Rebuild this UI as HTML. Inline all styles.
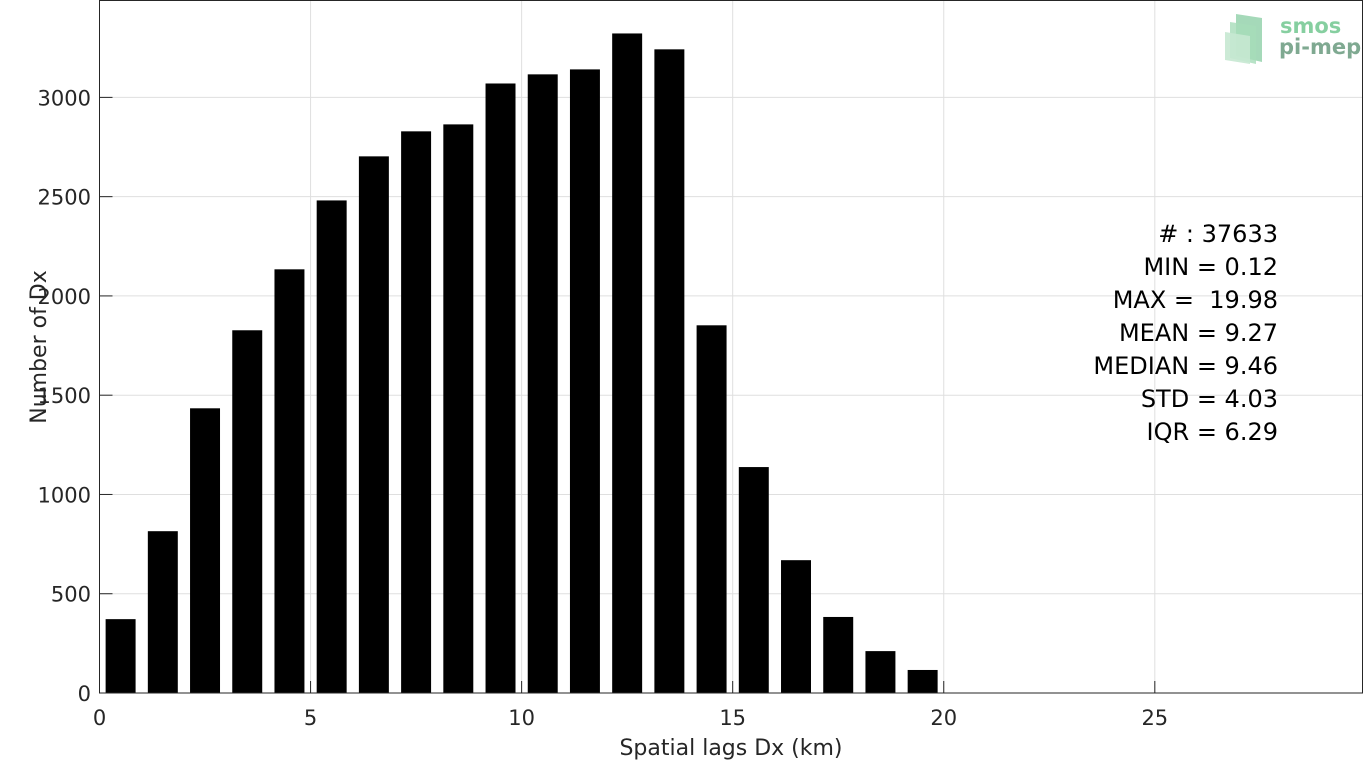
<!DOCTYPE html>
<html><head><meta charset="utf-8"><style>
html,body{margin:0;padding:0;background:#fff;}
svg{display:block;font-family:"DejaVu Sans","Liberation Sans",sans-serif;}
</style></head><body>
<svg id="chart" width="1364" height="762" viewBox="0 0 1364 762">
<g id="grid"></g>
<g id="bars"></g>
<g id="axes"></g>
<text x="731" y="755" font-size="22" text-anchor="middle" fill="#262626">Spatial lags Dx (km)</text>
<text transform="translate(46,347) rotate(-90)" font-size="22" text-anchor="middle" fill="#262626">Number of Dx</text>
<g font-size="24" text-anchor="end" fill="#000">
<text x="1278" y="242"># : 37633</text>
<text x="1278" y="275">MIN = 0.12</text>
<text x="1278" y="308" xml:space="preserve">MAX =  19.98</text>
<text x="1278" y="341">MEAN = 9.27</text>
<text x="1278" y="374">MEDIAN = 9.46</text>
<text x="1278" y="407">STD = 4.03</text>
<text x="1278" y="440">IQR = 6.29</text>
</g>
<g>
<polygon points="1236,14 1262,18 1262,62 1236,56" fill="#8fcfa8" opacity="0.8"/>
<polygon points="1230,22 1256,26 1256,64 1230,58" fill="#a6dcb9" opacity="0.8"/>
<polygon points="1225,32 1250,36 1250,64 1225,60" fill="#c6e8d2" opacity="0.9"/>
<text x="1280" y="33" font-size="21" font-weight="bold" fill="#86cfa0">smos</text>
<text x="1279" y="54" font-size="21" font-weight="bold" fill="#7fa991">pi-mep</text>
</g>
</svg>
<script>
const binCenters = [0.5,1.5,2.5,3.5,4.5,5.5,6.5,7.5,8.5,9.5,10.5,11.5,12.5,13.5,14.5,15.5,16.5,17.5,18.5,19.5];
const counts = [372,815,1434,1827,2134,2481,2703,2829,2864,3070,3116,3141,3322,3242,1852,1138,669,383,211,116];
const xTicks = [0,5,10,15,20,25];
const yTicks = [0,500,1000,1500,2000,2500,3000];
const X0=99.5, X1=1362.5, Y0=693, Y1=0.5, XMAX=29.92, YMAX=3488;
const sx = v => X0 + v/XMAX*(X1-X0);
const sy = v => Y0 - v/YMAX*(Y0-Y1);
const NS="http://www.w3.org/2000/svg";
function mk(tag, attrs, parent){const e=document.createElementNS(NS,tag);for(const k in attrs)e.setAttribute(k,attrs[k]);parent.appendChild(e);return e;}
const grid=document.getElementById('grid'), bars=document.getElementById('bars'), axes=document.getElementById('axes');
xTicks.forEach(t=>{
  if(t>0){const g=mk('line',{x1:sx(t),x2:sx(t),y1:Y1,y2:Y0,stroke:'#dfdfdf','stroke-width':1},grid);
  
  }
  const tk=mk('line',{x1:sx(t),x2:sx(t),y1:Y0,y2:Y0-12,stroke:'#262626','stroke-width':1},axes);
  
  
  const lb=mk('text',{x:sx(t),y:725,'font-size':21,'text-anchor':'middle',fill:'#262626'},axes);
  lb.textContent=t;
  
  
});
yTicks.forEach(t=>{
  if(t>0){const g=mk('line',{x1:X0,x2:X1,y1:sy(t),y2:sy(t),stroke:'#dfdfdf','stroke-width':1},grid);
  
  }
  const tk=mk('line',{x1:X0,x2:X0+13,y1:sy(t),y2:sy(t),stroke:'#262626','stroke-width':1},axes);
  
  
  const lb=mk('text',{x:91,y:sy(t)+8,'font-size':21,'text-anchor':'end',fill:'#262626'},axes);
  lb.textContent=t;
  
  
});
const halfW=0.355;
binCenters.forEach((c,i)=>{
  const r=mk('rect',{x:sx(c-halfW),y:sy(counts[i]),width:sx(c+halfW)-sx(c-halfW),height:Y0-sy(counts[i]),fill:'#000'},bars);
  
  
});
const frame=mk('rect',{x:X0,y:Y1,width:X1-X0,height:Y0-Y1,fill:'none',stroke:'#262626','stroke-width':1},axes);


</script>
</body></html>
